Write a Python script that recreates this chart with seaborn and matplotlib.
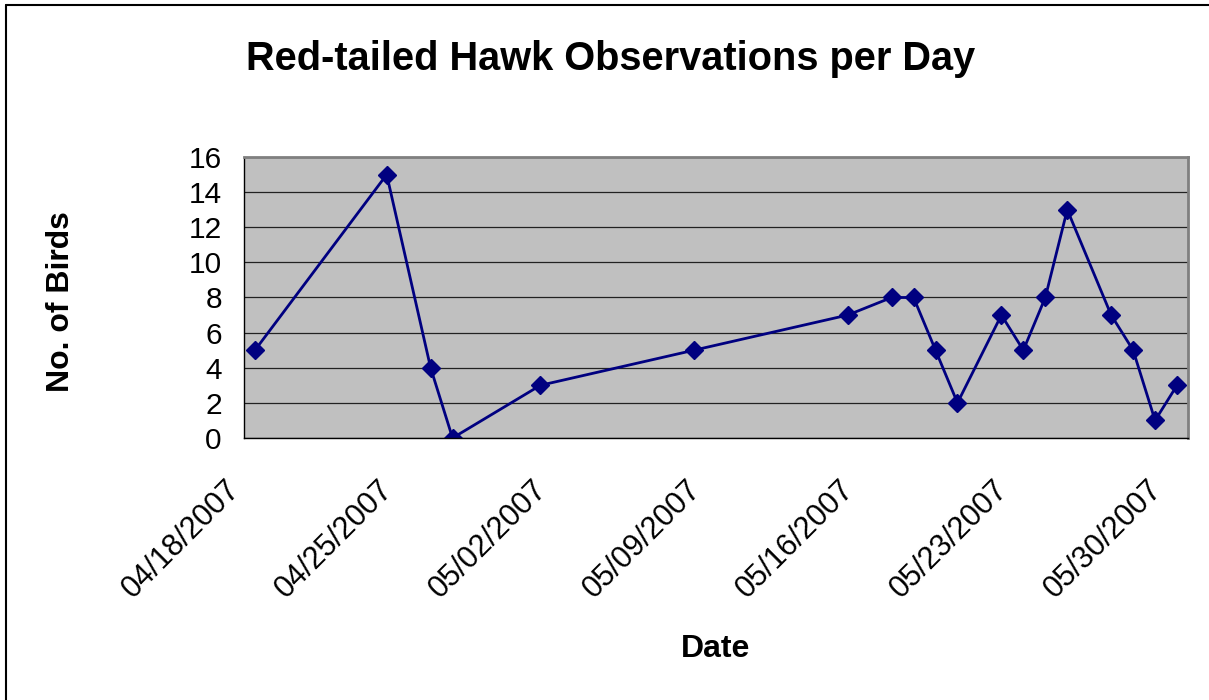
import pandas as pd
import matplotlib
matplotlib.use("Agg")
import matplotlib.pyplot as plt
import matplotlib.dates as mdates
import matplotlib.transforms as mtransforms
from matplotlib.lines import Line2D
import seaborn as sns

# observation days (logged around midday) and hawk counts
obs_dates = ["2007-04-18 12:00", "2007-04-24 12:00", "2007-04-26 12:00", "2007-04-27 12:00",
             "2007-05-01 12:00", "2007-05-08 12:00", "2007-05-15 12:00", "2007-05-17 12:00",
             "2007-05-18 12:00", "2007-05-19 12:00", "2007-05-20 12:00", "2007-05-22 12:00",
             "2007-05-23 12:00", "2007-05-24 12:00", "2007-05-25 12:00", "2007-05-27 12:00",
             "2007-05-28 12:00", "2007-05-29 12:00", "2007-05-30 12:00"]
birds = [5, 15, 4, 0, 3, 5, 7, 8, 8, 5, 2, 7, 5, 8, 13, 7, 5, 1, 3]

tick_dates = ["2007-04-18", "2007-04-25", "2007-05-02", "2007-05-09",
              "2007-05-16", "2007-05-23", "2007-05-30"]
x_range = ["2007-04-18", "2007-05-31"]
y_ticks = [0, 2, 4, 6, 8, 10, 12, 14, 16]

df = pd.DataFrame({"date": pd.to_datetime(obs_dates), "birds": birds})

sns.set_style("white")
plt.rcParams["font.family"] = ["Liberation Sans", "DejaVu Sans"]
# seaborn greys out text; the spreadsheet chart uses plain black
plt.rcParams.update({"text.color": "black", "axes.labelcolor": "black",
                     "xtick.color": "black", "ytick.color": "black"})

W, H = 1209, 700
fig = plt.figure(figsize=(W / 100, H / 100), dpi=100)
ax = fig.add_axes([244 / W, 1 - 438 / H, (1188 - 244) / W, (438 - 157) / H])
ax.set_facecolor("#C0C0C0")

sns.lineplot(data=df, x="date", y="birds", ax=ax, color="#000080", linewidth=2,
             marker="D", markersize=9.5, markeredgecolor="#000080", markeredgewidth=1)

ax.set_xlim(pd.to_datetime(x_range[0]), pd.to_datetime(x_range[1]))
ax.set_ylim(y_ticks[0], y_ticks[-1])
ax.set_yticks(y_ticks)
ax.set_xticks(pd.to_datetime(tick_dates))
ax.xaxis.set_major_formatter(mdates.DateFormatter("%m/%d/%Y"))

# horizontal grid like the spreadsheet chart
ax.yaxis.grid(True, color="#222222", linewidth=0.9)
ax.xaxis.grid(False)
ax.set_axisbelow(True)

for side in ["top", "right"]:
    ax.spines[side].set_color("#808080")
    ax.spines[side].set_linewidth(2)
for side in ["left", "bottom"]:
    ax.spines[side].set_color("black")
    ax.spines[side].set_linewidth(1)

ax.tick_params(axis="both", direction="out", length=7, width=1, color="black",
               labelsize=21.5, labelcolor="black")
ax.tick_params(axis="y", pad=9)
ax.tick_params(axis="x", pad=22, labelsize=22)

# slanted date labels sit a little left/down of the tick, as in the original
shift = mtransforms.ScaledTranslation(-0.09, -0.07, fig.dpi_scale_trans)
for lbl in ax.get_xticklabels():
    lbl.set_rotation(45)
    lbl.set_ha("right")
    lbl.set_va("center")
    lbl.set_rotation_mode("anchor")
    lbl.set_transform(lbl.get_transform() + shift)

ax.set_xlabel("Date", fontsize=23, fontweight="bold", va="baseline")
ax.xaxis.set_label_coords(0.5, -0.779)
ax.set_ylabel("No. of Birds", fontsize=23, fontweight="bold", va="center")
ax.yaxis.set_label_coords(-0.194, 0.484)

fig.text(0.505, 1 - 70 / H, "Red-tailed Hawk Observations per Day", fontsize=28.6,
         fontweight="bold", ha="center", va="baseline")

# chart frame (only top and left edges fall inside the image)
fig.add_artist(Line2D([6 / W, 6 / W], [0, 1 - 5 / H], color="black", linewidth=1.5))
fig.add_artist(Line2D([6 / W, 1], [1 - 5 / H, 1 - 5 / H], color="black", linewidth=1.5))

fig.savefig("out.png", dpi=100)
plt.close(fig)
